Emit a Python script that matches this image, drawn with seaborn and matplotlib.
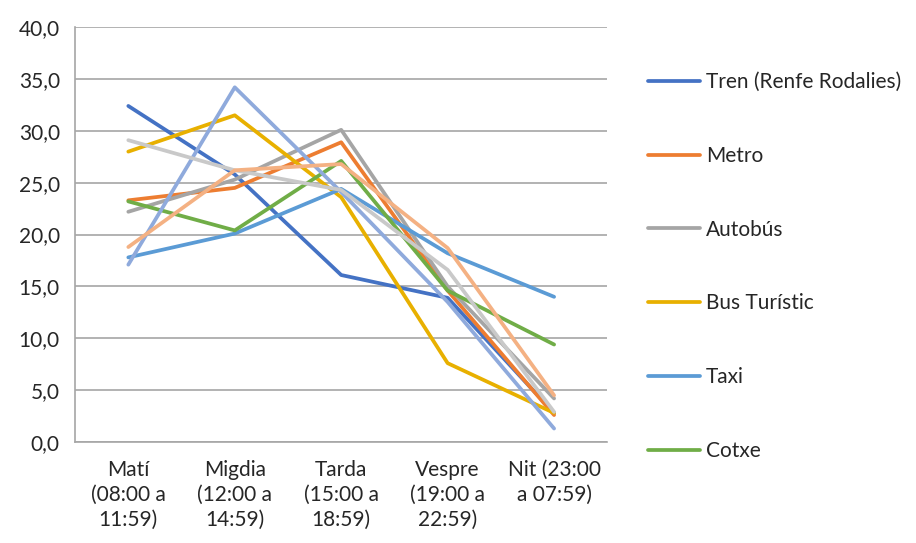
import pandas as pd
import numpy as np
import matplotlib
matplotlib.use("Agg")
import matplotlib.pyplot as plt
import seaborn as sns
from matplotlib.ticker import FuncFormatter

sns.set_style("white")
plt.rcParams["font.family"] = ["Lato", "DejaVu Sans"]

periods = ["Matí\n(08:00 a\n11:59)", "Migdia\n(12:00 a\n14:59)", "Tarda\n(15:00 a\n18:59)",
           "Vespre\n(19:00 a\n22:59)", "Nit (23:00\na 07:59)"]

tren = [32.4, 25.8, 16.1, 13.9, 2.8]
metro = [23.3, 24.5, 28.9, 14.6, 2.6]
autobus = [22.2, 25.3, 30.1, 15.0, 4.2]
bus_turistic = [28.0, 31.5, 23.6, 7.6, 2.8]
taxi = [17.8, 20.1, 24.4, 18.2, 14.0]
cotxe = [23.2, 20.4, 27.1, 14.6, 9.4]
serie7 = [17.1, 34.2, 24.1, 13.5, 1.3]
serie8 = [29.1, 26.2, 24.3, 16.6, 2.9]
serie9 = [18.8, 26.2, 26.8, 18.7, 4.5]

series = {
    "Tren (Renfe Rodalies)": tren,
    "Metro": metro,
    "Autobús": autobus,
    "Bus Turístic": bus_turistic,
    "Taxi": taxi,
    "Cotxe": cotxe,
    "Sèrie 7": serie7,
    "Sèrie 8": serie8,
    "Sèrie 9": serie9,
}
colors = ["#4472C4", "#ED7D31", "#A5A5A5", "#E8B000", "#5B9BD5", "#70AD47",
          "#8FAADC", "#C9C9C9", "#F4B183"]

rows = []
for name, vals in series.items():
    for i, v in enumerate(vals):
        rows.append({"Franja": i, "Serie": name, "Valor": v})
df = pd.DataFrame(rows)

fig = plt.figure(figsize=(9.16, 5.43), dpi=100)
ax = fig.add_axes([0.082, 0.186, 0.581, 0.764])

sns.lineplot(data=df, x="Franja", y="Valor", hue="Serie", palette=colors,
             linewidth=2.7, ax=ax, legend=True)

fs = 15
ax.set_xlim(-0.5, 4.5)
ax.set_ylim(0, 40)
ax.set_yticks(np.arange(0, 41, 5))
ax.yaxis.set_major_formatter(FuncFormatter(lambda v, p: f"{v:.1f}".replace(".", ",")))
ax.set_xticks(range(5))
ax.set_xticklabels(periods, linespacing=1.3)
ax.set_xticks(np.arange(-0.5, 4.6, 1), minor=True)
ax.tick_params(axis="x", which="major", length=0, pad=13, labelsize=fs)
ax.tick_params(axis="x", which="minor", length=5, color="#A6A6A6", direction="out")
ax.tick_params(axis="y", length=5, color="#A6A6A6", labelsize=fs, pad=6)
ax.grid(axis="y", color="#A6A6A6", linewidth=1.2)
ax.set_axisbelow(True)
for s in ["top", "right"]:
    ax.spines[s].set_visible(False)
for s in ["left", "bottom"]:
    ax.spines[s].set_color("#A6A6A6")
    ax.spines[s].set_linewidth(1.2)
ax.set_xlabel("")
ax.set_ylabel("")

handles, labels = ax.get_legend_handles_labels()
ax.legend(handles[:6], labels[:6], loc="upper left", bbox_to_anchor=(0.707, 0.867),
          bbox_transform=fig.transFigure, frameon=False, fontsize=fs,
          handlelength=2.5, handletextpad=0.3, labelspacing=2.58, borderaxespad=0,
          borderpad=0)

fig.savefig("out.png", dpi=100)
